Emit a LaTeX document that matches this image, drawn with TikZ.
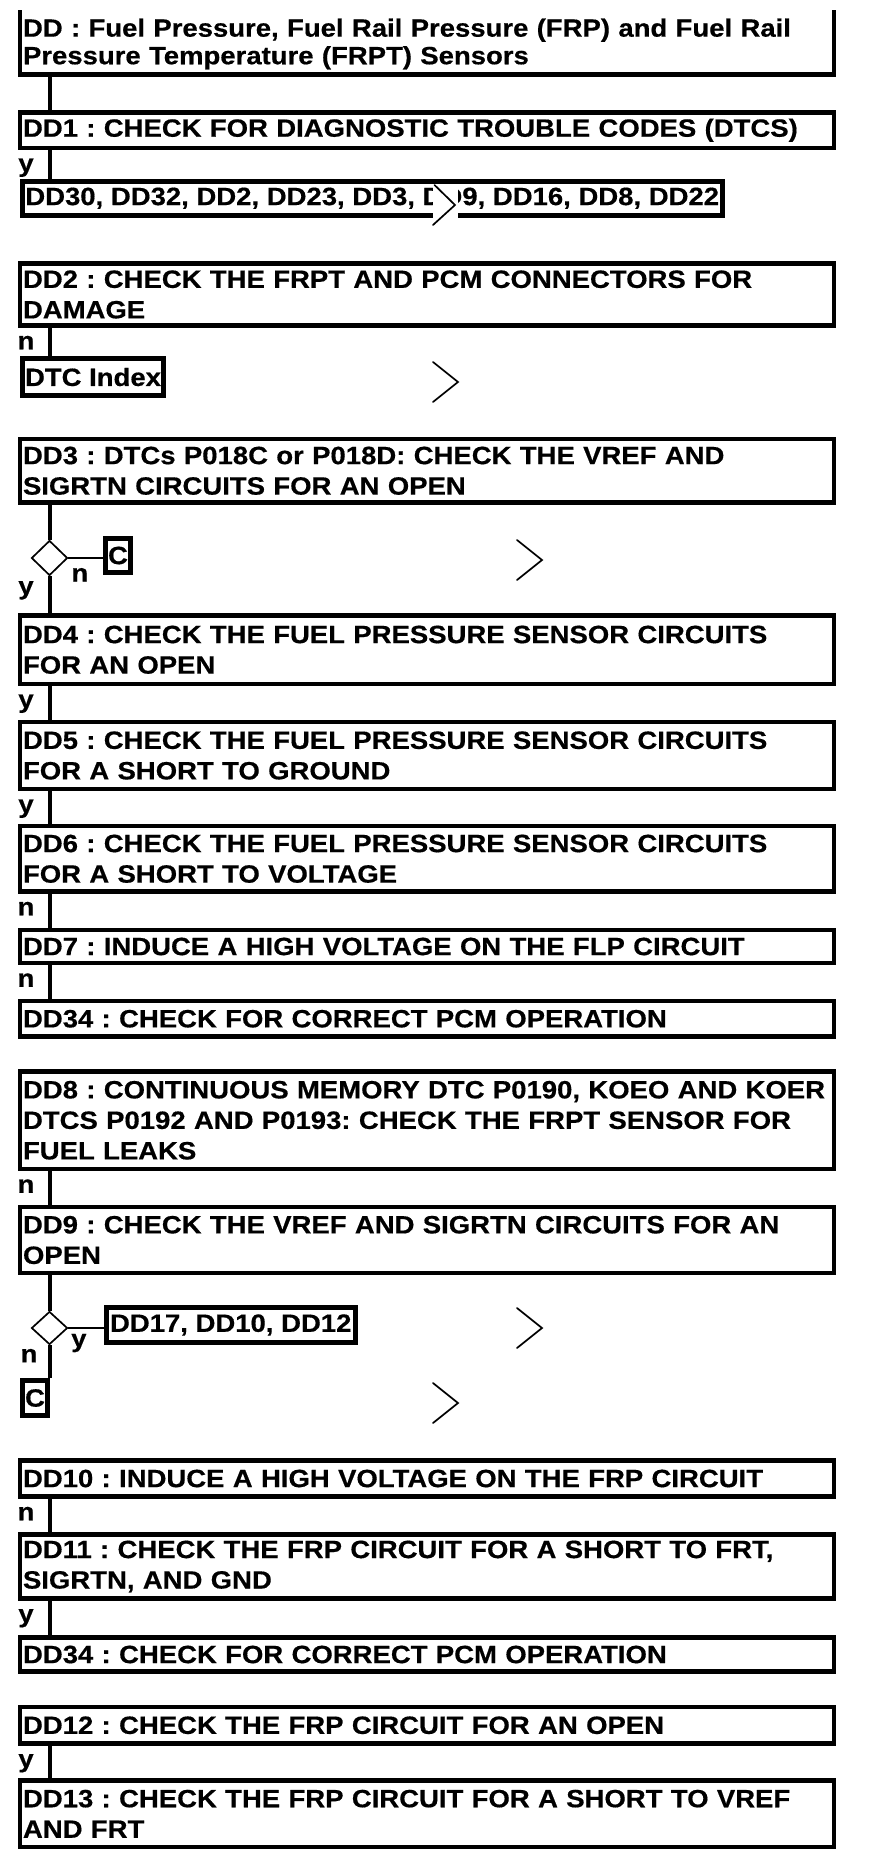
\documentclass[tikz,border=0pt]{standalone}
\usepackage{fontspec}
\setmainfont{Liberation Sans}[FakeStretch=1.1, BoldFeatures={FakeBold=0.5}]
\usetikzlibrary{shapes.geometric}
\frenchspacing
\begin{document}
\begin{tikzpicture}[x=1pt,y=-1pt,
  txt/.style={font=\frenchspacing\bfseries\fontsize{25}{30.5}\selectfont},
  box/.style={txt, draw, line width=4.5pt, minimum width=814pt, text width=808pt, inner xsep=3pt, inner ysep=0pt, align=left},
  titlebox/.style={font=\frenchspacing\bfseries\fontsize{25}{27.6}\selectfont, text width=808pt, inner xsep=3pt, inner ysep=0pt, align=left},
  linkbox/.style={txt, draw, line width=5pt, inner sep=0pt},
  conn/.style={line width=4pt},
  thinconn/.style={line width=1.7pt},
  lbl/.style={font=\bfseries\fontsize{25}{30}\selectfont, inner sep=0pt, text height=13pt, text depth=0pt, anchor=center},
  dec/.style={draw, diamond, line width=1.7pt, inner sep=0pt, minimum width=36pt, minimum height=35pt, fill=white},
  chev/.style={line width=1.7pt, line cap=round}
]
\useasboundingbox (0,0) rectangle (880,1866);
\coordinate (sp) at (49.5,0);
% title
\node[titlebox] (dd0) at (427,44) {DD : Fuel Pressure, Fuel Rail Pressure (FRP) and Fuel Rail\\Pressure Temperature (FRPT) Sensors};
\draw[line width=4.5pt] (20,10) -- (20,74.5) -- (834,74.5) -- (834,10);
\coordinate (t0) at (49.5,76.5);
% boxes
\node[box, minimum height=35.5pt] (dd1) at (427,130.25) {DD1 : CHECK FOR DIAGNOSTIC TROUBLE CODES (DTCS)};
\node[linkbox, minimum width=699.5pt, minimum height=34.5pt] (dd30) at (372.25,198.25) {DD30, DD32, DD2, DD23, DD3, DD9, DD16, DD8, DD22};
\node[box, minimum height=62pt] (dd2) at (427,294.5) {DD2 : CHECK THE FRPT AND PCM CONNECTORS FOR\\DAMAGE};
\node[linkbox, minimum width=141pt, minimum height=37pt] (dtc) at (93,377) {DTC Index};
\node[box, minimum height=63.5pt] (dd3) at (427,470.75) {DD3 : DTCs P018C or P018D: CHECK THE VREF AND\\SIGRTN CIRCUITS FOR AN OPEN};
\node[dec] (d1) at (49.5,558) {};
\node[linkbox, minimum width=25pt, minimum height=34pt] (c1) at (118,555.5) {C};
\node[box, minimum height=68.5pt] (dd4) at (427,649.75) {DD4 : CHECK THE FUEL PRESSURE SENSOR CIRCUITS\\FOR AN OPEN};
\node[box, minimum height=67pt] (dd5) at (427,755.5) {DD5 : CHECK THE FUEL PRESSURE SENSOR CIRCUITS\\FOR A SHORT TO GROUND};
\node[box, minimum height=65.5pt] (dd6) at (427,858.75) {DD6 : CHECK THE FUEL PRESSURE SENSOR CIRCUITS\\FOR A SHORT TO VOLTAGE};
\node[box, minimum height=33pt] (dd7) at (427,946.5) {DD7 : INDUCE A HIGH VOLTAGE ON THE FLP CIRCUIT};
\node[box, minimum height=35.5pt] (dd34a) at (427,1018.75) {DD34 : CHECK FOR CORRECT PCM OPERATION};
\node[box, minimum height=97.5pt] (dd8) at (427,1120.25) {\mbox{DD8 : CONTINUOUS MEMORY DTC P0190, KOEO AND KOER}\\DTCS P0192 AND P0193: CHECK THE FRPT SENSOR FOR\\FUEL LEAKS};
\node[box, minimum height=66pt] (dd9) at (427,1240) {DD9 : CHECK THE VREF AND SIGRTN CIRCUITS FOR AN\\OPEN};
\node[dec, minimum height=33pt] (d2) at (49.5,1328) {};
\node[linkbox, minimum width=249.5pt, minimum height=35pt] (dd17) at (230.75,1325) {DD17, DD10, DD12};
\node[linkbox, minimum width=25pt, minimum height=35pt] (c2) at (35,1398) {C};
\node[box, minimum height=36pt] (dd10) at (427,1478.5) {DD10 : INDUCE A HIGH VOLTAGE ON THE FRP CIRCUIT};
\node[box, minimum height=64pt] (dd11) at (427,1566.5) {DD11 : CHECK THE FRP CIRCUIT FOR A SHORT TO FRT,\\SIGRTN, AND GND};
\node[box, minimum height=34pt] (dd34b) at (427,1654.5) {DD34 : CHECK FOR CORRECT PCM OPERATION};
\node[box, minimum height=36.5pt] (dd12) at (427,1725.25) {DD12 : CHECK THE FRP CIRCUIT FOR AN OPEN};
\node[box, minimum height=66.5pt] (dd13) at (427,1813.75) {DD13 : CHECK THE FRP CIRCUIT FOR A SHORT TO VREF\\AND FRT};
% connectors
\draw[conn] (t0) -- (sp |- dd1.north);
\draw[conn] (sp |- dd1.south) -- node[lbl, at start, xshift=-23.5pt, yshift=-15pt] {y} (sp |- dd30.north);
\draw[conn] (sp |- dd2.south) -- node[lbl, at start, xshift=-23.5pt, yshift=-15pt] {n} (sp |- dtc.north);
\draw[conn] (sp |- dd3.south) -- (d1.north);
\draw[thinconn] (d1.east) -- node[lbl, at start, xshift=11.5pt, yshift=-17pt] {n} (d1.east -| c1.west);
\draw[conn] (d1.south) -- node[lbl, at start, xshift=-23.5pt, yshift=-11.5pt] {y} (sp |- dd4.north);
\draw[conn] (sp |- dd4.south) -- node[lbl, at start, xshift=-23.5pt, yshift=-15pt] {y} (sp |- dd5.north);
\draw[conn] (sp |- dd5.south) -- node[lbl, at start, xshift=-23.5pt, yshift=-15pt] {y} (sp |- dd6.north);
\draw[conn] (sp |- dd6.south) -- node[lbl, at start, xshift=-23.5pt, yshift=-15pt] {n} (sp |- dd7.north);
\draw[conn] (sp |- dd7.south) -- node[lbl, at start, xshift=-23.5pt, yshift=-15pt] {n} (sp |- dd34a.north);
\draw[conn] (sp |- dd8.south) -- node[lbl, at start, xshift=-23.5pt, yshift=-15pt] {n} (sp |- dd9.north);
\draw[conn] (sp |- dd9.south) -- (d2.north);
\draw[thinconn] (d2.east) -- node[lbl, at start, xshift=10.5pt, yshift=-12.5pt] {y} (d2.east -| dd17.west);
\draw[conn] (d2.south) -- node[lbl, at start, xshift=-20.5pt, yshift=-10.5pt] {n} (d2.south |- c2.north);
\draw[conn] (sp |- dd10.south) -- node[lbl, at start, xshift=-23.5pt, yshift=-15pt] {n} (sp |- dd11.north);
\draw[conn] (sp |- dd11.south) -- node[lbl, at start, xshift=-23.5pt, yshift=-15pt] {y} (sp |- dd34b.north);
\draw[conn] (sp |- dd12.south) -- node[lbl, at start, xshift=-23.5pt, yshift=-15pt] {y} (sp |- dd13.north);
% chevrons
\fill[white] (433,184.5) rectangle (458,227);
\draw[chev] (434.5,185) -- (455,205) -- (433,225);
\draw[chev] (433,362) -- (458,382) -- (433,402);
\draw[chev] (517,540) -- (542,560) -- (517,580);
\draw[chev] (517,1308) -- (542,1328) -- (517,1348);
\draw[chev] (433,1383) -- (458,1403) -- (433,1423);
\end{tikzpicture}
\end{document}
